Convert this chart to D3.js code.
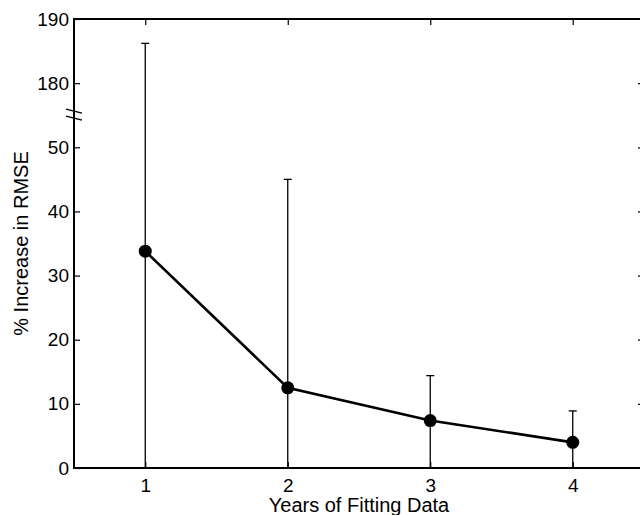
<!DOCTYPE html>
<html>
<head>
<meta charset="utf-8">
<script src="https://cdn.jsdelivr.net/npm/d3@7"></script>
<style>
  html, body { margin: 0; padding: 0; background: #fff; }
  svg { display: block; }
</style>
</head>
<body>
<div id="chart"></div>
<script>
// ############################################################################
// Data
// ############################################################################

const years      = [1, 2, 3, 4]
const meanRise   = [33.8, 12.5, 7.4, 4.0]
const upperError = [186.2, 45.0, 14.4, 8.9]
const lowerError = [0, 0, 0, 0]

const xTicks     = [1, 2, 3, 4]
const yTicks     = [0, 10, 20, 30, 40, 50, 180, 190]

// the y axis is broken: everything above the cut is shifted down by 120
const yCutLow    = 50
const yCutHigh   = 170
const yBreakAt   = 55


// ############################################################################
// Layout
// ############################################################################

const width  = 640
const height = 515
const margin = { left: 74, top: 19, right: -4, bottom: 47 }

const font = "'Liberation Sans', Arial, Helvetica, sans-serif"

const svg = d3.select("#chart")
  .append("svg")
  .attr("width", width)
  .attr("height", height)
  .style("font-family", font)

const x = d3.scaleLinear()
  .domain([0.5, 4.5])
  .range([margin.left, width - margin.right])

const yLin = d3.scaleLinear()
  .domain([0, 70])
  .range([height - margin.bottom, margin.top])

// map a data value onto the broken axis
const toAxis = v => v > yCutHigh ? v - (yCutHigh - yCutLow) : v
const y = v => yLin(toAxis(v))


// ============================================================================
// Axes (MATLAB style box, ticks pointing inward)
// ============================================================================

const x0 = x.range()[0], x1 = x.range()[1]
const y0 = yLin.range()[0], y1 = yLin.range()[1]

const axisColor = "#000"

svg.append("g")
  .attr("transform", `translate(0,${y0})`)
  .call(d3.axisBottom(x).tickValues(xTicks).tickSize(-6).tickPadding(11)
    .tickFormat(d3.format("d")))
  .call(g => g.select(".domain").remove())

svg.append("g")
  .attr("transform", `translate(0,${y1})`)
  .call(d3.axisTop(x).tickValues(xTicks).tickSize(-6).tickFormat(""))
  .call(g => g.select(".domain").remove())

const yAxisScale = yLin.copy()
svg.append("g")
  .attr("transform", `translate(${x0},0)`)
  .call(d3.axisLeft(yAxisScale).tickValues(yTicks.map(toAxis)).tickSize(-6)
    .tickPadding(5)
    .tickFormat((d, i) => yTicks[i]))
  .call(g => g.select(".domain").remove())

svg.append("g")
  .attr("transform", `translate(${x1},0)`)
  .call(d3.axisRight(yAxisScale).tickValues(yTicks.map(toAxis)).tickSize(-6)
    .tickFormat(""))
  .call(g => g.select(".domain").remove())

svg.selectAll(".tick line")
  .attr("stroke", axisColor)
  .attr("stroke-width", 1.2)

svg.selectAll(".tick text")
  .attr("fill", "#000")
  .attr("font-size", null)
  .style("font-size", "19px")
  .style("font-family", font)

// box
svg.append("rect")
  .attr("x", x0)
  .attr("y", y1)
  .attr("width", x1 - x0)
  .attr("height", y0 - y1)
  .attr("fill", "none")
  .attr("stroke", axisColor)
  .attr("stroke-width", 2)

// break marks on the left axis
const yb = yLin(yBreakAt)
;[-4, 3].forEach(off =>
{
  svg.append("line")
    .attr("x1", x0 - 8)
    .attr("y1", yb + off - 2)
    .attr("x2", x0 + 8)
    .attr("y2", yb + off + 2)
    .attr("stroke", "#000")
    .attr("stroke-width", 1.3)
})


// ============================================================================
// Error bars
// ============================================================================

const capHalf = 4
const bars = svg.append("g")
  .attr("stroke", "#000")
  .attr("stroke-width", 1.3)

years.forEach((yr, i) =>
{
  const cx = x(yr)
  bars.append("line")
    .attr("x1", cx).attr("x2", cx)
    .attr("y1", y(upperError[i]))
    .attr("y2", y(lowerError[i]))
  bars.append("line")
    .attr("x1", cx - capHalf).attr("x2", cx + capHalf)
    .attr("y1", y(upperError[i])).attr("y2", y(upperError[i]))
})


// ============================================================================
// Mean line and markers
// ============================================================================

const line = d3.line()
  .x((d, i) => x(years[i]))
  .y(d => y(d))

svg.append("path")
  .datum(meanRise)
  .attr("d", line)
  .attr("fill", "none")
  .attr("stroke", "#000")
  .attr("stroke-width", 2.6)

svg.selectAll("circle.pt")
  .data(meanRise)
  .join("circle")
  .attr("class", "pt")
  .attr("cx", (d, i) => x(years[i]))
  .attr("cy", d => y(d))
  .attr("r", 6.5)
  .attr("fill", "#000")


// ============================================================================
// Axis titles
// ============================================================================

svg.append("text")
  .attr("x", (x0 + x1) / 2)
  .attr("y", 512)
  .attr("text-anchor", "middle")
  .style("font-size", "20px")
  .text("Years of Fitting Data")

svg.append("text")
  .attr("transform", `translate(28,${(y0 + y1) / 2}) rotate(-90)`)
  .attr("text-anchor", "middle")
  .style("font-size", "20px")
  .text("% Increase in RMSE")
</script>
</body>
</html>
